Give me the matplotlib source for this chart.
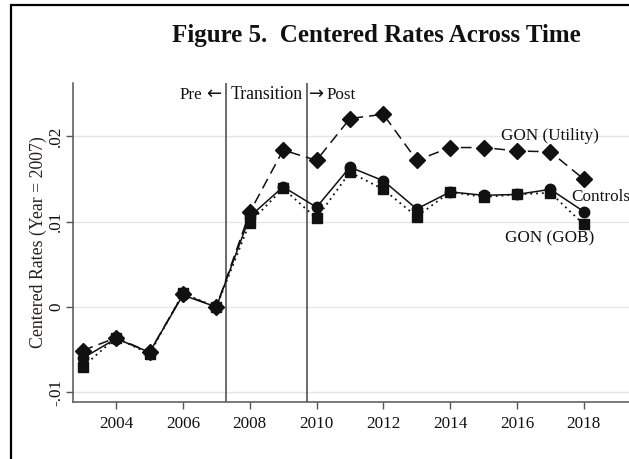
import matplotlib
matplotlib.use("Agg")
import matplotlib.pyplot as plt
from matplotlib.patches import Rectangle

plt.rcParams['font.family'] = ['Liberation Serif', 'DejaVu Serif']

years = list(range(2003, 2019))
gon_utility = [-0.0051, -0.0036, -0.0053, 0.0015, 0.0000, 0.0111, 0.0184, 0.0172,
               0.0221, 0.0226, 0.0172, 0.0187, 0.0187, 0.0183, 0.0182, 0.0150]
controls = [-0.0060, -0.0037, -0.0053, 0.0014, 0.0000, 0.0106, 0.0141, 0.0117,
            0.0164, 0.0148, 0.0115, 0.0135, 0.0131, 0.0132, 0.0138, 0.0112]
gon_gob = [-0.0070, -0.0036, -0.0055, 0.0016, 0.0000, 0.0099, 0.0139, 0.0104,
           0.0158, 0.0138, 0.0106, 0.0135, 0.0129, 0.0132, 0.0134, 0.0097]

y_ticks = [-0.01, 0.0, 0.01, 0.02]
y_tick_labels = ["-.01", "0", ".01", ".02"]
x_ticks = list(range(2004, 2019, 2))
period_breaks = [2007.3, 2009.7]

fig = plt.figure(figsize=(6.29, 4.59), dpi=100)
ax = fig.add_axes([0.1156, 0.1248, 0.9027, 0.6937])

ink = "#111111"
axis_col = "#555555"
fs = 12.3

for yv in y_ticks:
    ax.axhline(yv, color="#e6e6e6", lw=1.0, zorder=0)

for xb in period_breaks:
    ax.axvline(xb, color="#444444", lw=1.1, zorder=1)

ax.plot(years, gon_utility, color=ink, lw=1.1, ls=(0, (7, 4)), marker="D",
        ms=8.5, zorder=3)
ax.plot(years, controls, color=ink, lw=1.1, ls="-", marker="o", ms=7.5, zorder=4)
ax.plot(years, gon_gob, color=ink, lw=1.3, ls=(0, (1, 2.2)), marker="s",
        ms=7, zorder=3)

ax.set_xlim(2002.70, 2019.70)
ax.set_ylim(-0.0111, 0.02623)

ax.set_xticks(x_ticks)
ax.set_xticklabels([str(x) for x in x_ticks], fontsize=fs, color=ink)
ax.set_yticks(y_ticks)
ax.set_yticklabels(y_tick_labels, fontsize=fs, color=ink, rotation=90, va="center")
ax.tick_params(axis="both", direction="out", length=5, width=1.0, color=axis_col)
ax.tick_params(axis="x", pad=5)
ax.tick_params(axis="y", pad=1.2)

for side in ["top", "right"]:
    ax.spines[side].set_visible(False)
for side in ["left", "bottom"]:
    ax.spines[side].set_color(axis_col)
    ax.spines[side].set_linewidth(1.1)

ax.set_ylabel("Centered Rates (Year = 2007)", fontsize=12.8, color="#2a2020")
ax.yaxis.set_label_coords(-0.046, 0.5)

# period annotations around the break lines
ty = 0.02438
ax.text(2006.574, ty, "Pre", ha="right", va="baseline", fontsize=fs, color=ink)
ax.text(2006.918, ty, "\u2190", ha="center", va="baseline", fontsize=13,
        family="DejaVu Sans", color=ink)
ax.text(sum(period_breaks) / 2, ty, "Transition", ha="center", va="baseline",
        fontsize=12.8, color=ink)
ax.text(2010.001, ty, "\u2192", ha="center", va="baseline", fontsize=13,
        family="DejaVu Sans", color=ink)
ax.text(2010.315, ty, "Post", ha="left", va="baseline", fontsize=fs, color=ink)

# series labels
ax.text(2017.0, 0.02005, "GON (Utility)", ha="center", va="center", fontsize=fs, color=ink)
ax.text(2017.62, 0.01293, "Controls", ha="left", va="center", fontsize=fs, color=ink,
        clip_on=False)
ax.text(2016.98, 0.00809, "GON (GOB)", ha="center", va="center", fontsize=fs, color=ink)

fig.text(0.5986, 0.909, "Figure 5.  Centered Rates Across Time", ha="center",
         va="baseline", fontsize=18, fontweight="bold", color=ink)

fig.add_artist(Rectangle((0.0175, -0.2), 1.5, 1.2 - 0.011, transform=fig.transFigure,
                         fill=False, lw=1.6, edgecolor="black", clip_on=False))

fig.savefig("out.png", dpi=100)
